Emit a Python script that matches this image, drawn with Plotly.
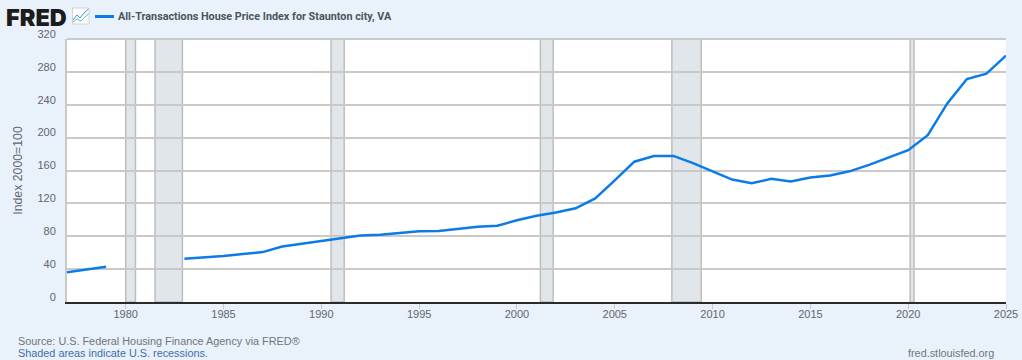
import plotly.graph_objects as go

years_a = [1977, 1978, 1979]
values_a = [36.3, 40, 43]
years_b = list(range(1983, 2026))
values_b = [52.6, 53.9, 56, 58.5, 60.7, 67.6, 71, 74.6, 78, 81, 81.8, 83.5, 86, 86.5, 89, 91.5, 92.7,
            99.4, 105, 109, 114, 126, 148, 170.7, 177.5, 177.7, 169, 159, 149, 144.5, 149.8, 146.6,
            151.4, 153.9, 159, 166.9, 176.2, 184.8, 203, 241.7, 271.3, 277.8, 299.8]
recessions = [(1980.0, 1980.5), (1981.5, 1982.9), (1990.5, 1991.17), (2001.2, 2001.85), (2007.92, 2009.42), (2020.1, 2020.3)]
x_ticks = [1980, 1985, 1990, 1995, 2000, 2005, 2010, 2015, 2020, 2025]
y_ticks = [0, 40, 80, 120, 160, 200, 240, 280, 320]
title = "All-Transactions House Price Index for Staunton city, VA"
y_title = "Index 2000=100"
source = "Source: U.S. Federal Housing Finance Agency via FRED®"
note = "Shaded areas indicate U.S. recessions."
site = "fred.stlouisfed.org"

BG = "#e9f1fa"
BLUE = "#0b7be8"
GRID = "#c9c9c9"
W, H = 1022, 360
L, R, T, B = 67, 16, 39, 58


def px(v):
    return (v - L) / (W - L - R)


def py(v):
    return 1 - (v - T) / (H - T - B)


fig = go.Figure()
for xs, ys in ((years_a, values_a), (years_b, values_b)):
    fig.add_trace(go.Scatter(x=xs, y=ys, mode="lines", showlegend=False, hoverinfo="skip",
                             line=dict(color=BLUE, width=2.5), cliponaxis=False))

shapes = []
for a, b in recessions:
    shapes.append(dict(type="rect", xref="x", yref="paper", x0=a, x1=b, y0=0, y1=1, layer="below",
                       fillcolor="#e1e6ea", line=dict(color="#bdbdbd", width=1.5)))
shapes.append(dict(type="line", xref="paper", yref="paper", x0=0, x1=1, y0=1, y1=1, line=dict(color=GRID, width=2)))
# legend key and FRED icon, in page pixels
shapes.append(dict(type="line", xref="paper", yref="paper", x0=px(95), x1=px(114), y0=py(16.5), y1=py(16.5),
                   line=dict(color=BLUE, width=3)))
shapes.append(dict(type="rect", xref="paper", yref="paper", x0=px(72.5), x1=px(89), y0=py(8), y1=py(24),
                   fillcolor="#ffffff", line=dict(color="#d0d4d8", width=1)))
shapes.append(dict(type="path", xref="paper", yref="paper",
                   path=f"M {px(73)} {py(20)} L {px(77)} {py(15)} L {px(80)} {py(18)} L {px(85)} {py(12)} L {px(88.5)} {py(9)}",
                   line=dict(color="#3a8fe0", width=1)))
shapes.append(dict(type="path", xref="paper", yref="paper",
                   path=f"M {px(73)} {py(22)} L {px(77)} {py(19)} L {px(81)} {py(21)} L {px(85)} {py(17)} L {px(88.5)} {py(14)}",
                   line=dict(color="#5cc0a0", width=1)))

anns = [
    dict(text="FRED", x=px(6), y=py(16.5), xanchor="left", yanchor="middle", height=20,
         font=dict(family="Inter, DejaVu Sans", size=23.5, weight=900, color="#1c1c1c")),
    dict(text=f"<b>{title}</b>", x=px(118), y=py(16.5), xanchor="left", yanchor="middle",
         font=dict(family="Roboto", size=10.8, color="#4a5560")),
    dict(text=source, x=px(18), y=py(341), xanchor="left", yanchor="middle",
         font=dict(family="Liberation Sans", size=10.85, color="#6e7680")),
    dict(text=note, x=px(18), y=py(353), xanchor="left", yanchor="middle",
         font=dict(family="Liberation Sans", size=10.85, color="#3f6fa8")),
    dict(text=site, x=px(994), y=py(353), xanchor="right", yanchor="middle",
         font=dict(family="Liberation Sans", size=10.85, color="#6e7680")),
]
for a in anns:
    a.update(xref="paper", yref="paper", showarrow=False, borderpad=0, borderwidth=0)

fig.update_layout(
    width=W, height=H, margin=dict(l=L, r=R, t=T, b=B, pad=0, autoexpand=False),
    paper_bgcolor=BG, plot_bgcolor="#ffffff", showlegend=False, shapes=shapes, annotations=anns,
    xaxis=dict(range=[1977, 2025], tickvals=x_ticks, ticktext=[str(t) for t in x_ticks], showgrid=False,
               zeroline=False, ticks="outside", ticklen=5, tickwidth=1, tickcolor="#c9c9c9",
               showline=True, linecolor="#2b2b2b", linewidth=2, ticklabelstandoff=-4,
               tickfont=dict(family="Liberation Sans", size=11, color="#5f6770")),
    yaxis=dict(range=[0, 320], tickvals=y_ticks, showgrid=True, gridcolor=GRID, gridwidth=1.5,
               zeroline=False, ticks="", showline=True, linecolor=GRID, linewidth=2, mirror=False,
               ticklabelstandoff=7, ticklabelshift=-5,
               title=dict(text=y_title, standoff=12, font=dict(family="Liberation Sans", size=12.3, color="#5f6770")),
               tickfont=dict(family="Liberation Sans", size=11, color="#5f6770")),
)
fig.write_html("out.html", config={"displayModeBar": False},
               post_script="document.body.style.margin='0';document.documentElement.style.overflow='hidden';")
